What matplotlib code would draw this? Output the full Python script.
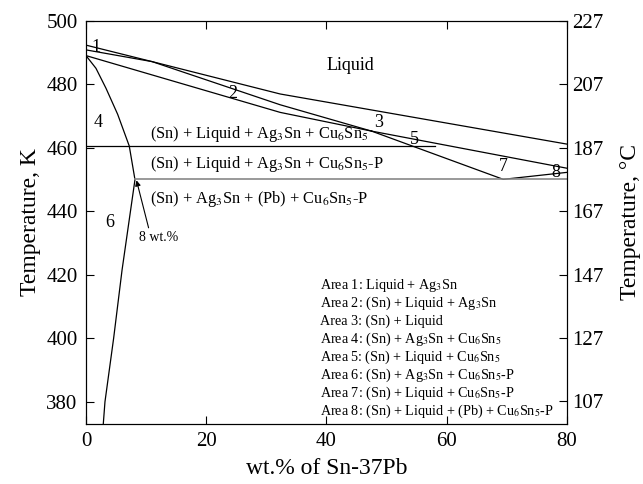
import numpy as np
import matplotlib.pyplot as plt

plt.rcParams['font.family'] = ['Liberation Serif', 'DejaVu Serif']
plt.rcParams['mathtext.fontset'] = 'stix'

# phase boundaries, wt.% of Sn-37Pb vs K
liq_x = [0, 11, 32.3, 80]
liq_y = [490.9, 487.2, 477.0, 461.2]
ag_x = [0, 11, 32.3, 47.5]
ag_y = [492.4, 487.2, 473.6, 465.3]
low_x = [0, 32.3, 47.5]
low_y = [489.1, 471.2, 465.3]
up_x = [47.5, 80]
up_y = [465.3, 453.6]
kink_x = [47.5, 69.4, 80]
kink_y = [465.3, 450.1, 452.3]
solvus_x = [0, 1.66, 3.33, 5.27, 7.2, 8.15, 6.0, 4.6, 3.16, 2.88]
solvus_y = [489.1, 485.1, 478.8, 470.6, 460.6, 450.0, 421.5, 400.0, 380.0, 373.0]
t_eut = 460.6
t_low = 450.1
eut_end = 58.0

area_num = ['1', '2', '3', '4', '5', '6', '7', '8']
area_x = [1.66, 24.4, 48.6, 2.0, 54.7, 4.0, 69.4, 78.2]
area_y = [491.8, 477.3, 467.9, 467.9, 462.5, 436.4, 454.0, 452.1]

area_text = [
    'Area 1: Liquid + Ag$_3$Sn',
    'Area 2: (Sn) + Liquid + Ag$_3$Sn',
    'Area 3: (Sn) + Liquid',
    'Area 4: (Sn) + Ag$_3$Sn + Cu$_6$Sn$_5$',
    'Area 5: (Sn) + Liquid + Cu$_6$Sn$_5$',
    'Area 6: (Sn) + Ag$_3$Sn + Cu$_6$Sn$_5$-P',
    'Area 7: (Sn) + Liquid + Cu$_6$Sn$_5$-P',
    'Area 8: (Sn) + Liquid + (Pb) + Cu$_6$Sn$_5$-P',
]

c_ticks = [107, 127, 147, 167, 187, 207, 227]

fig = plt.figure(figsize=(6.43, 4.84), dpi=100)
ax = fig.add_axes([0.1337, 0.124, 0.7481, 0.8326])

lw = 0.9
ax.plot(liq_x, liq_y, 'k-', lw=lw)
ax.plot(ag_x, ag_y, 'k-', lw=lw)
ax.plot(low_x, low_y, 'k-', lw=lw)
ax.plot(up_x, up_y, 'k-', lw=lw)
ax.plot(kink_x, kink_y, 'k-', lw=lw)
ax.plot(solvus_x, solvus_y, 'k-', lw=lw)
ax.plot([0, eut_end], [t_eut, t_eut], 'k-', lw=lw)
ax.plot([8.15, 80], [t_low, t_low], '-', color='#888888', lw=1.2)

for s, x, y in zip(area_num, area_x, area_y):
    ax.text(x, y, s, fontsize=13, ha='center', va='center')

ax.text(43.9, 486.1, 'Liquid', fontsize=13, ha='center', va='center')
ax.text(10.6, 464.3, '(Sn) + Liquid + Ag$_3$Sn + Cu$_6$Sn$_5$', fontsize=11.8, va='center')
ax.text(10.6, 454.8, '(Sn) + Liquid + Ag$_3$Sn + Cu$_6$Sn$_5$-P', fontsize=11.8, va='center')
ax.text(10.6, 444.0, '(Sn) + Ag$_3$Sn + (Pb) + Cu$_6$Sn$_5$-P', fontsize=11.8, va='center')
ax.annotate('8 wt.%', xy=(8.4, 449.8), xytext=(8.9, 431.9), fontsize=10, va='center',
            arrowprops=dict(arrowstyle='-|>', color='k', lw=0.8, shrinkA=0, shrinkB=0,
                            mutation_scale=8, relpos=(0.25, 1.0)))

for i, s in enumerate(area_text):
    ax.text(38.9, 416.8 - i * 5.67, s, fontsize=10.2, va='center')

ax.set_xlim(0, 80)
ax.set_ylim(373, 500)
ax.set_xticks([0, 20, 40, 60, 80])
ax.set_yticks([380, 400, 420, 440, 460, 480, 500])
ax.tick_params(direction='in', length=6, width=0.8, labelsize=15, top=True, right=False, pad=6)
ax.set_xlabel('wt.% of Sn-37Pb', fontsize=17, labelpad=5)
ax.set_ylabel('Temperature, K', fontsize=17, labelpad=4)

ax2 = ax.twinx()
ax2.set_ylim(373, 500)
ax2.set_yticks([c + 273.15 for c in c_ticks])
ax2.set_yticklabels([str(c) for c in c_ticks])
ax2.tick_params(direction='in', length=6, width=0.8, labelsize=15)
ax2.set_ylabel('Temperature, \u00b0C', fontsize=17, labelpad=12)

fig.savefig('out.png', dpi=100)
